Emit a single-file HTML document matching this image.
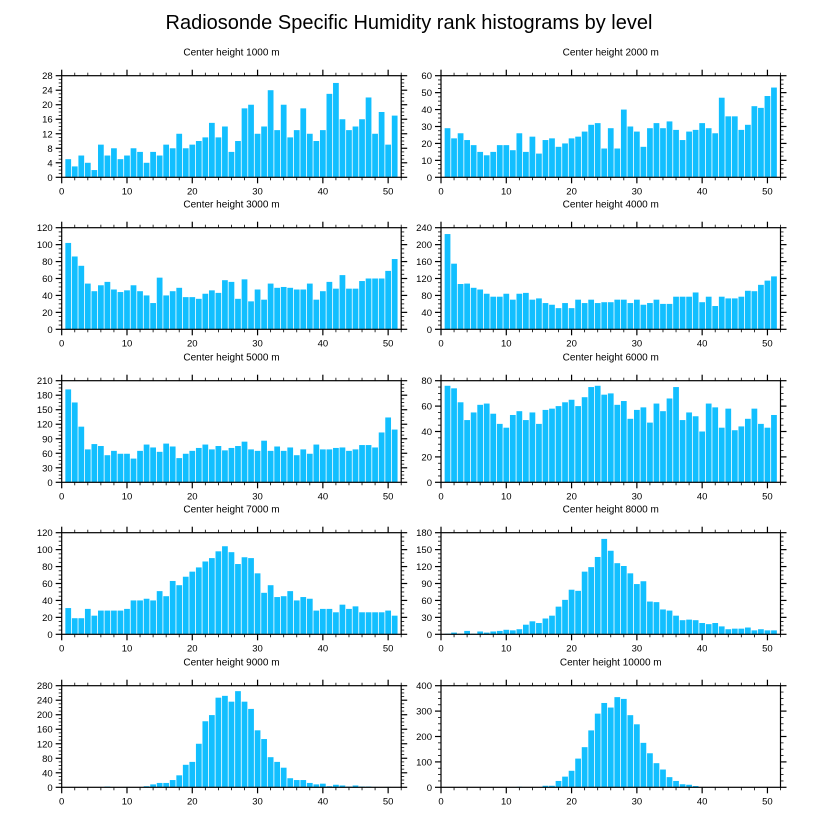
<!DOCTYPE html>
<html><head><meta charset="utf-8"><style>
html,body{margin:0;padding:0;background:#fff;}
svg{display:block;font-family:"Liberation Sans",Arial,sans-serif;}
</style></head><body>
<svg id="chart" width="818" height="824" viewBox="0 0 818 824" xmlns="http://www.w3.org/2000/svg">
<text x="409" y="29" text-anchor="middle" font-size="20">Radiosonde Specific Humidity rank histograms by level</text>
</svg>
<script>
const ranks = Array.from({length:51},(_,i)=>i+1);
const titles = ["Center height 1000 m","Center height 2000 m","Center height 3000 m","Center height 4000 m","Center height 5000 m","Center height 6000 m","Center height 7000 m","Center height 8000 m","Center height 9000 m","Center height 10000 m"];
const yMaxes = [28,60,120,240,210,80,120,180,280,400];
const yMajorSteps = [4,10,20,40,30,20,20,30,40,100];
const xTickLabels = [0,10,20,30,40,50];
const h1000 = [5,3,6,4,2,9,6,8,5,6,8,7,4,7,6,9,8,12,8,9,10,11,15,11,14,7,10,19,20,12,14,24,13,20,11,13,19,12,10,13,23,26,16,13,14,16,22,12,18,9,17];
const h2000 = [29,23,26,22,19,15,13,15,19,19,16,26,15,24,14,22,23,18,20,23,24,27,31,32,17,29,17,40,30,27,18,29,32,29,33,28,22,27,28,32,29,26,47,36,36,28,31,42,41,48,53];
const h3000 = [102,86,75,54,45,52,56,47,44,46,52,45,40,31,61,40,45,49,38,38,36,42,46,43,58,56,36,59,33,47,35,54,49,50,49,47,47,54,35,45,56,48,64,48,48,57,60,60,60,69,83];
const h4000 = [225,155,107,108,98,94,84,77,77,84,70,84,86,70,73,62,58,50,62,50,70,62,70,62,64,64,70,70,62,70,58,62,70,60,60,77,77,77,87,64,77,55,77,73,73,77,91,90,105,115,125];
const h5000 = [192,165,115,68,79,75,56,65,59,59,49,65,78,72,63,80,74,50,59,65,71,78,68,75,66,71,75,84,68,65,86,65,74,65,72,56,68,59,78,68,68,71,72,65,68,77,77,72,103,134,109];
const h6000 = [76,74,63,49,55,61,62,54,46,43,53,56,49,55,46,57,58,60,63,65,60,67,75,76,69,70,61,64,50,57,59,47,62,56,66,75,49,55,52,40,62,59,43,58,41,44,50,58,46,43,53];
const h7000 = [31,19,19,30,22,28,28,28,28,30,40,40,42,40,51,45,63,58,68,74,79,86,90,98,104,97,83,91,90,72,49,58,44,45,51,40,44,42,28,30,30,26,35,30,33,26,26,26,26,28,22];
const h8000 = [1,3,1,6,1,5,3,5,6,8,7,9,17,23,20,28,33,49,61,79,77,111,119,137,169,148,126,121,108,89,94,58,57,44,42,33,25,26,25,20,18,20,14,9,10,10,12,7,9,7,7];
const h9000 = [0,0,0,0,0,0,2,0,0,1,0,0,3,8,12,12,20,33,62,70,120,182,199,247,252,236,265,236,216,157,133,83,70,54,25,20,20,12,8,10,3,7,5,2,5,2,2,1,0,1,0];
const h10000 = [0,0,0,0,0,0,0,0,0,0,0,2,0,0,0,6,6,25,42,65,113,158,224,290,332,314,355,348,284,248,175,134,95,70,40,25,12,10,5,1,0,1,0,0,0,0,0,0,0,0,0];
const series = [h1000,h2000,h3000,h4000,h5000,h6000,h7000,h8000,h9000,h10000];

const NS="http://www.w3.org/2000/svg";
const svg=document.getElementById('chart');
function mk(tag,attrs,parent){const e=document.createElementNS(NS,tag);for(const k in attrs)e.setAttribute(k,attrs[k]);(parent||svg).appendChild(e);return e;}
const colX=[61.7,441], rowY=[75.7,227.7,380.7,532.7,685.7];
const PW=339.5, PH=101.6, XMAX=52;
series.forEach((vals,p)=>{
  const col=p%2,row=Math.floor(p/2);
  const L=colX[col],T=rowY[row],B=T+PH,R=L+PW;
  const g=mk('g',{});
  
  
  const xs=v=>L+v/XMAX*PW, ys=v=>B-v/yMaxes[p]*PH;
  const t=mk('text',{x:(L+R)/2,y:T-20,'text-anchor':'middle','font-size':'10'},g);
  
  
  t.textContent=titles[p];
  vals.forEach((v,i)=>{
    const x=ranks[i];
    const b=mk('rect',{x:xs(x-0.44),y:ys(v),width:xs(0.88)-L,height:Math.max(0,B-ys(v)),fill:'#12bfff'},g);
    
    
  });
  const f=mk('rect',{x:L,y:T,width:PW,height:PH,fill:'none',stroke:'#000','stroke-width':'1.2'},g);
  
  
  // x ticks
  for(let v=0;v<=XMAX;v+=2){
    const maj=v%10===0,len=maj?6:3,x=xs(v);
    mk('line',{x1:x,x2:x,y1:B,y2:B+len,stroke:'#000','stroke-width':maj?1.2:0.8},g);
    mk('line',{x1:x,x2:x,y1:T,y2:T-len,stroke:'#000','stroke-width':maj?1.2:0.8},g);
  }
  xTickLabels.forEach(v=>{
    const tl=mk('text',{x:xs(v),y:B+17,'text-anchor':'middle','font-size':'9.5'},g);
    
    
    tl.textContent=v;
  });
  const st=yMajorSteps[p],ym=yMaxes[p],minor=st/4;
  for(let v=0;v<=ym+1e-9;v+=minor){
    const maj=Math.abs(v/st-Math.round(v/st))<1e-6,len=maj?6:3,y=ys(v);
    mk('line',{x1:L,x2:L-len,y1:y,y2:y,stroke:'#000','stroke-width':maj?1.2:0.8},g);
    mk('line',{x1:R,x2:R+len,y1:y,y2:y,stroke:'#000','stroke-width':maj?1.2:0.8},g);
  }
  for(let v=0;v<=ym+1e-9;v+=st){
    const yl=mk('text',{x:L-9,y:ys(v)+3.5,'text-anchor':'end','font-size':'9.5'},g);
    
    
    yl.textContent=Math.round(v);
  }
});
</script>
</body></html>
